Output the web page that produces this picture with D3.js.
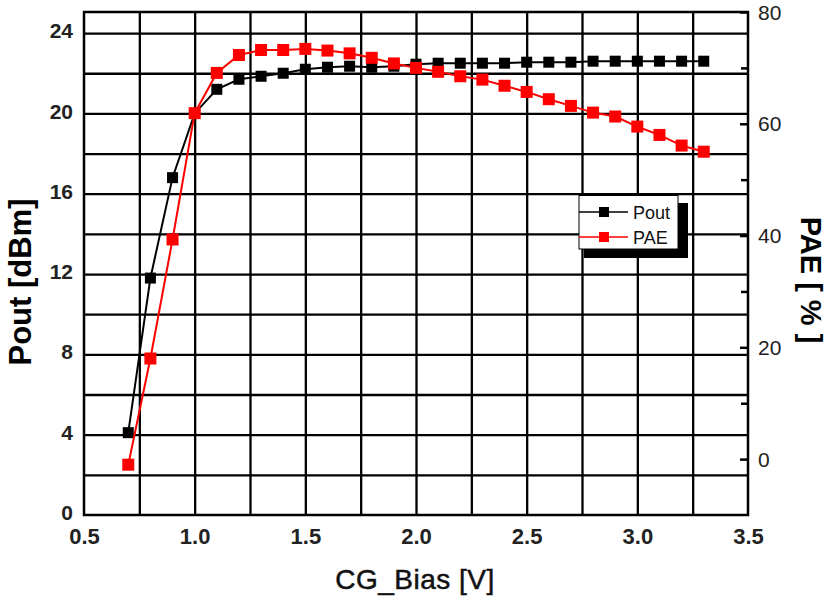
<!DOCTYPE html>
<html><head><meta charset="utf-8">
<script src="https://cdn.jsdelivr.net/npm/d3@7/dist/d3.min.js"></script>
<style>body{margin:0;background:#fff}svg{display:block}</style>
</head><body>
<svg id="c" width="827" height="602"></svg>
<script>
const bias = [0.7,0.8,0.9,1.0,1.1,1.2,1.3,1.4,1.5,1.6,1.7,1.8,1.9,2.0,2.1,2.2,2.3,2.4,2.5,2.6,2.7,2.8,2.9,3.0,3.1,3.2,3.3];
const pout = [4.1,11.8,16.8,20.0,21.2,21.7,21.85,22.0,22.2,22.3,22.35,22.3,22.35,22.45,22.5,22.5,22.5,22.5,22.55,22.55,22.55,22.6,22.6,22.6,22.6,22.6,22.6];
const pae  = [-1.0,18.0,39.3,61.9,69.1,72.3,73.2,73.2,73.4,73.1,72.6,71.8,70.8,70.0,69.3,68.5,67.9,66.8,65.7,64.4,63.2,62.0,61.3,59.5,58.0,56.1,55.0];
const xTicks = [0.5,1.0,1.5,2.0,2.5,3.0,3.5];
const xGrid = [0.75,1.0,1.25,1.5,1.75,2.0,2.25,2.5,2.75,3.0,3.25];
const yLeftTicks = [0,4,8,12,16,20,24];
const yLeftGrid = [2,4,6,8,10,12,14,16,18,20,22,24];
const yRightTicks = [0,20,40,60,80];
const yRightMinor = [10,30,50,70];
const seriesNames = ["Pout","PAE"];

const L=84,R=748,T=12,B=515;
const svg=d3.select("#c");
const x=d3.scaleLinear().domain([0.5,3.5]).range([L,R]);
const yL=d3.scaleLinear().domain([0,25.05]).range([B,T]);
const yR=d3.scaleLinear().domain([-10,80]).range([B,T]);

// grid
const gx=svg.append("g").attr("transform",`translate(0,${B})`)
  .call(d3.axisBottom(x).tickValues(xGrid).tickSize(-(B-T)).tickFormat(""));
gx.select(".domain").remove();
gx.selectAll("line").attr("stroke","#000").attr("stroke-width",2.3);
const gy=svg.append("g").attr("transform",`translate(${L},0)`)
  .call(d3.axisLeft(yL).tickValues(yLeftGrid).tickSize(-(R-L)).tickFormat(""));
gy.select(".domain").remove();
gy.selectAll("line").attr("stroke","#000").attr("stroke-width",2.3);

// frame
svg.append("rect").attr("x",L).attr("y",T).attr("width",R-L).attr("height",B-T)
  .attr("fill","none").attr("stroke","#000").attr("stroke-width",2.5);

// x tick labels
const ax=svg.append("g").attr("transform",`translate(0,${B})`)
  .call(d3.axisBottom(x).tickValues(xTicks).tickSize(0).tickPadding(29).tickFormat(d3.format(".1f")));
ax.select(".domain").remove();
ax.selectAll("text").attr("font-family","Liberation Sans, Arial, sans-serif").attr("font-size",22)
  .attr("font-weight","bold").attr("fill","#222").attr("dy",0);

// left tick labels
const al=svg.append("g").attr("transform",`translate(${L},0)`)
  .call(d3.axisLeft(yL).tickValues(yLeftTicks).tickSize(0).tickPadding(11).tickFormat(d3.format("d")));
al.select(".domain").remove();
al.selectAll("text").attr("font-family","Liberation Sans, Arial, sans-serif").attr("font-size",21)
  .attr("font-weight","bold").attr("fill","#222").attr("dy","0.22em");

// right ticks
const ar=svg.append("g").attr("transform",`translate(${R},0)`)
  .call(d3.axisRight(yR).tickValues(yRightTicks).tickSize(-8).tickPadding(10).tickFormat(d3.format("d")));
ar.select(".domain").remove();
ar.selectAll("line").attr("stroke","#000").attr("stroke-width",2.5);
ar.selectAll("text").attr("font-family","Liberation Sans, Arial, sans-serif").attr("font-size",21)
  .attr("fill","#222").attr("dy","0.34em");
const arm=svg.append("g").attr("transform",`translate(${R},0)`)
  .call(d3.axisRight(yR).tickValues(yRightMinor).tickSize(-7).tickFormat(""));
arm.select(".domain").remove();
arm.selectAll("line").attr("stroke","#000").attr("stroke-width",2.5);

// series
function drawSeries(vals, yScale, color, size){
  const g=svg.append("g");
  const line=d3.line().x((d,i)=>x(bias[i])).y(d=>yScale(d));
  g.append("path").datum(vals).attr("d",line).attr("fill","none").attr("stroke",color).attr("stroke-width",2);
  g.selectAll("rect").data(vals).join("rect")
    .attr("x",(d,i)=>x(bias[i])-size/2).attr("y",d=>yScale(d)-size/2)
    .attr("width",size).attr("height",size).attr("fill",color);
}
drawSeries(pout,yL,"#000",11);
drawSeries(pae,yR,"#ff0000",12);

// legend
const lg=svg.append("g");
lg.append("rect").attr("x",584).attr("y",203).attr("width",104).attr("height",55).attr("fill","#000");
lg.append("rect").attr("x",579).attr("y",195.5).attr("width",99).attr("height",53.5).attr("fill","#fff").attr("stroke","#000").attr("stroke-width",1);
const legColors=["#000","#ff0000"];
seriesNames.forEach((n,i)=>{
  const yy=212+i*25;
  lg.append("line").attr("x1",579).attr("x2",628).attr("y1",yy).attr("y2",yy).attr("stroke",legColors[i]).attr("stroke-width",1.5);
  lg.append("rect").attr("x",604-5).attr("y",yy-5).attr("width",10).attr("height",10).attr("fill",legColors[i]);
  lg.append("text").attr("x",633).attr("y",yy+6.5).text(n)
    .attr("font-family","Liberation Sans, Arial, sans-serif").attr("font-size",18).attr("fill","#111");
});

// axis titles
svg.append("text").attr("transform","translate(31,282) rotate(-90)").attr("text-anchor","middle")
  .attr("font-family","Liberation Sans, Arial, sans-serif").attr("font-size",31).attr("font-weight","bold")
  .text("Pout [dBm]");
svg.append("text").attr("transform","translate(801,280) rotate(90)").attr("text-anchor","middle")
  .attr("font-family","Liberation Sans, Arial, sans-serif").attr("font-size",29).attr("font-weight","bold")
  .text("PAE [ % ]");
svg.append("text").attr("x",415).attr("y",589).attr("text-anchor","middle")
  .attr("font-family","Liberation Sans, Arial, sans-serif").attr("font-size",28).attr("fill","#111")
  .attr("letter-spacing",0.5).attr("stroke","#111").attr("stroke-width",0.5)
  .text("CG_Bias [V]");
</script>
</body></html>
